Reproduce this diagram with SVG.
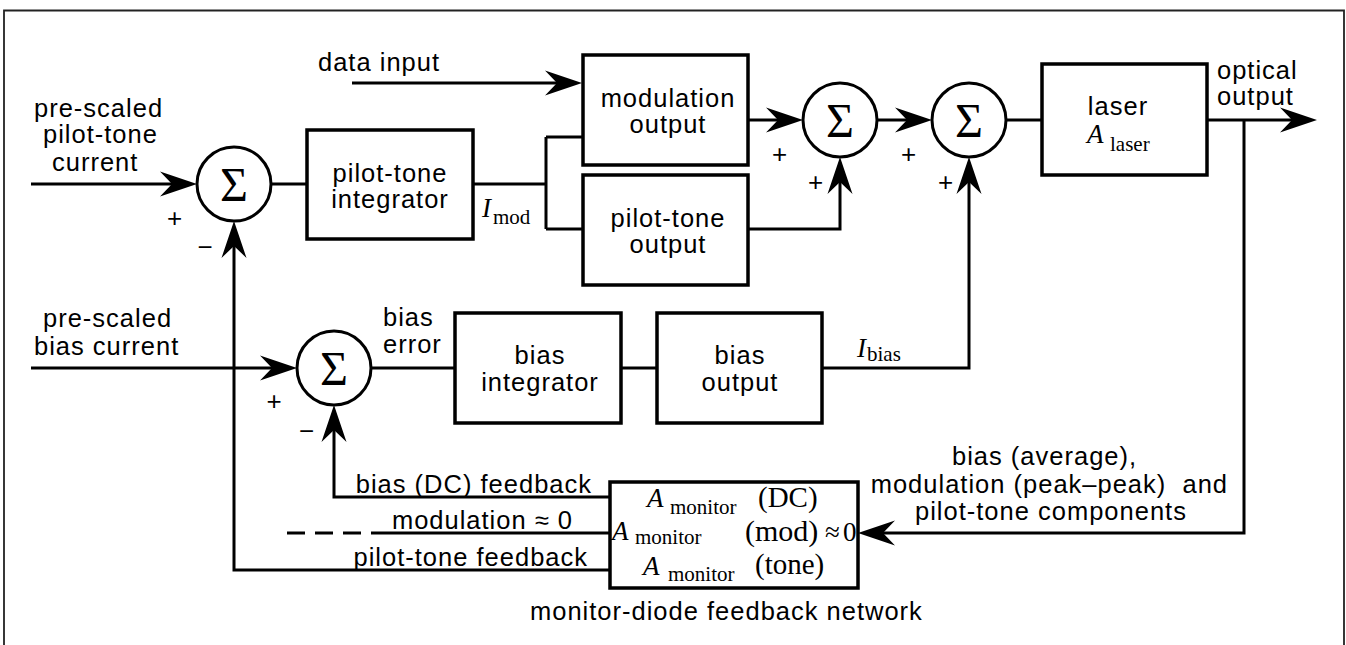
<svg xmlns="http://www.w3.org/2000/svg" width="1346" height="645" viewBox="0 0 1346 645">
<style>
.t{font-family:"Liberation Sans",Arial,sans-serif;font-size:25.5px;letter-spacing:1px;fill:#000;white-space:pre}
.m{text-anchor:middle}
.e{text-anchor:end}
.s{font-family:"Liberation Serif","Times New Roman",serif;fill:#000}
.sig{font-size:48px;text-anchor:middle}
.it{font-style:italic}
.pm{font-family:"Liberation Sans",Arial,sans-serif;font-size:26px;text-anchor:middle;fill:#000}
.box{fill:none;stroke:#000;stroke-width:3.5}
.sum{fill:#fff;stroke:#000;stroke-width:3}
.w{fill:none;stroke:#000;stroke-width:3}
.a{marker-end:url(#arr)}
</style>
<defs>
<marker id="arr" viewBox="-40 -15 42 30" markerWidth="42" markerHeight="30" refX="-20" refY="0" orient="auto" markerUnits="userSpaceOnUse">
<path d="M0,0 L-37,-12.5 L-25,0 L-37,12.5 Z" fill="#000"/>
</marker>
</defs>
<rect x="0" y="0" width="1346" height="645" fill="#fff"/>
<path d="M4,645 V10.5 H1344 V645" fill="none" stroke="#222" stroke-width="1.8"/>

<g id="connectors">
<path class="w a" d="M31,184 H177"/>
<path class="w" d="M272,184 H307"/>
<path class="w" d="M473,184 H546 M546,137 V229 M546,137 H583 M546,229 H583"/>
<path class="w a" d="M352,83 H562"/>
<path class="w a" d="M748,120 H783"/>
<path class="w a" d="M748,229 H840 V177"/>
<path class="w a" d="M877,120 H912"/>
<path class="w" d="M1006,120 H1042"/>
<path class="w a" d="M1207,120 H1297"/>
<path class="w a" d="M1244,120 V533 H878"/>
<path class="w a" d="M31,368 H277"/>
<path class="w" d="M372,368 H455"/>
<path class="w" d="M621,368 H657"/>
<path class="w a" d="M822,368 H969 V177"/>
<path class="w a" d="M610,497 H334 V425"/>
<path class="w a" d="M610,570 H234 V241"/>
<path class="w" d="M287,533 H305 M315,533 H333 M343,533 H361"/>
<path class="w" d="M371,533 H610"/>
</g>

<g id="sum1"><circle class="sum" cx="234" cy="184" r="37"/><text class="s sig" x="234" y="201">Σ</text></g>
<g id="sum2"><circle class="sum" cx="840" cy="120" r="37"/><text class="s sig" x="840" y="137">Σ</text></g>
<g id="sum3"><circle class="sum" cx="969" cy="120" r="37"/><text class="s sig" x="969" y="137">Σ</text></g>
<g id="sum4"><circle class="sum" cx="334" cy="368" r="37"/><text class="s sig" x="334" y="385">Σ</text></g>

<g id="signs">
<text class="pm" x="174.5" y="226.5">+</text>
<text class="pm" x="205" y="256">−</text>
<text class="pm" x="779.5" y="162.5">+</text>
<text class="pm" x="815.5" y="190.5">+</text>
<text class="pm" x="908.5" y="162.5">+</text>
<text class="pm" x="945.5" y="190.5">+</text>
<text class="pm" x="274" y="410">+</text>
<text class="pm" x="306.5" y="440">−</text>
</g>

<g id="pilot-input">
<text class="t" x="34" y="117">pre-scaled</text>
<text class="t" x="43" y="143">pilot-tone</text>
<text class="t" x="52" y="171">current</text>
</g>
<g id="data-input"><text class="t" x="318" y="71">data input</text></g>
<g id="pilot-integrator">
<rect class="box" x="307" y="130" width="166" height="109"/>
<text class="t m" x="390" y="182">pilot-tone</text>
<text class="t m" x="390" y="208">integrator</text>
</g>
<g id="imod-label">
<text class="s it" x="482" y="217" font-size="27">I</text>
<text class="s" x="493" y="224" font-size="21">mod</text>
</g>
<g id="modulation-output">
<rect class="box" x="583" y="55" width="165" height="110"/>
<text class="t m" x="668" y="107">modulation</text>
<text class="t m" x="668" y="133">output</text>
</g>
<g id="pilot-output">
<rect class="box" x="583" y="175" width="165" height="110"/>
<text class="t m" x="668" y="227">pilot-tone</text>
<text class="t m" x="668" y="253">output</text>
</g>
<g id="laser">
<rect class="box" x="1042" y="64" width="165" height="111"/>
<text class="t m" x="1118" y="115">laser</text>
<text class="s it" x="1087" y="143" font-size="27">A</text>
<text class="s" x="1110" y="151" font-size="21">laser</text>
</g>
<g id="optical-output">
<text class="t" x="1217" y="79">optical</text>
<text class="t" x="1217" y="105">output</text>
</g>
<g id="bias-input">
<text class="t" x="43" y="327">pre-scaled</text>
<text class="t" x="34" y="355">bias current</text>
</g>
<g id="bias-error">
<text class="t" x="383" y="326">bias</text>
<text class="t" x="383" y="353">error</text>
</g>
<g id="bias-integrator">
<rect class="box" x="455" y="313" width="166" height="110"/>
<text class="t m" x="540" y="364">bias</text>
<text class="t m" x="540" y="391">integrator</text>
</g>
<g id="bias-output">
<rect class="box" x="657" y="313" width="165" height="110"/>
<text class="t m" x="740" y="364">bias</text>
<text class="t m" x="740" y="391">output</text>
</g>
<g id="ibias-label">
<text class="s it" x="857" y="357" font-size="27">I</text>
<text class="s" x="867" y="361" font-size="21">bias</text>
</g>
<g id="feedback-labels">
<text class="t e" x="592" y="493">bias (DC) feedback</text>
<text class="t e" x="573" y="529">modulation ≈ 0</text>
<text class="t e" x="588" y="566">pilot-tone feedback</text>
</g>
<g id="monitor">
<rect class="box" x="610" y="482" width="248" height="106"/>
<text class="s it" x="647" y="507" font-size="27">A</text>
<text class="s" x="670" y="514" font-size="21">monitor</text>
<text class="s" x="758" y="507" font-size="29">(DC)</text>
<text class="s it" x="612" y="540" font-size="27">A</text>
<text class="s" x="635" y="544" font-size="21">monitor</text>
<text class="s" x="745" y="541" font-size="30">(mod)</text>
<text class="s" x="825" y="541" font-size="27">≈</text>
<text class="s" x="843" y="541" font-size="27">0</text>
<text class="s it" x="643" y="575" font-size="27">A</text>
<text class="s" x="668" y="581" font-size="21">monitor</text>
<text class="s" x="755" y="574" font-size="29">(tone)</text>
<text class="t" x="530" y="620">monitor-diode feedback network</text>
</g>
<g id="components-label">
<text class="t" x="952" y="465">bias (average),</text>
<text class="t e" x="1228" y="493">modulation (peak–peak)  and</text>
<text class="t" x="915" y="520">pilot-tone components</text>
</g>
</svg>
